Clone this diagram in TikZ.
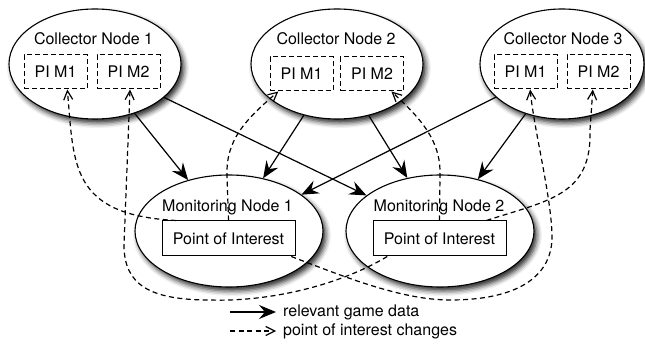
\documentclass[tikz,border=0pt]{standalone}
\usepackage{fontspec}
\setmainfont{TeX Gyre Heros}
\usetikzlibrary{arrows.meta,shapes.geometric,shadows.blur}

\begin{document}
\begin{tikzpicture}[x=1pt,y=-1pt,
  every node/.style={font=\fontsize{16pt}{18pt}\selectfont},
  nodeshadow/.style={blur shadow={shadow xshift=3pt,shadow yshift=-4pt,
      shadow blur radius=5pt,shadow opacity=85}},
  collector/.style={ellipse,draw,line width=1.1pt,fill=white,inner sep=0pt,
      minimum width=172pt,minimum height=110pt,nodeshadow},
  monitor/.style={ellipse,draw,line width=1.1pt,fill=white,inner sep=0pt,
      minimum width=188pt,minimum height=112pt,nodeshadow},
  pibox/.style={draw,line width=1pt,dash pattern=on 5pt off 3pt,inner sep=0pt,
      minimum width=63pt,minimum height=34pt},
  poibox/.style={draw,line width=1pt,fill=white,inner sep=0pt,
      minimum width=133pt,minimum height=35pt},
  txt/.style={inner sep=0pt,anchor=base},
  data/.style={line width=1.2pt,-{Stealth[length=17pt,width=14pt,inset=6pt]}},
  change/.style={line width=1.2pt,dash pattern=on 5pt off 3.5pt,
      -{Straight Barb[length=9pt,width=9pt,line width=1.2pt]}}]
\useasboundingbox (0,0) rectangle (645,347);

% collector nodes
\node[collector] (cn1) at (95,64) {};
\node[collector] (cn2) at (337,64) {};
\node[collector,minimum width=164pt] (cn3) at (562,64) {};
% monitoring nodes
\node[monitor] (mn1) at (229,231) {};
\node[monitor] (mn2) at (440,231) {};

\node[txt] (t1) at (93.5,44.5) {Collector Node 1};
\node[txt] (t2) at (336,44.5) {Collector Node 2};
\node[txt] (t3) at (563,44.5) {Collector Node 3};
\node[txt] (t4) at (227.5,212) {Monitoring Node 1};
\node[txt] (t5) at (439,212) {Monitoring Node 2};

\node[pibox] (a1) at (55.5,72) {PI M1};
\node[pibox] (a2) at (128.5,72) {PI M2};
\node[pibox] (b1) at (301.5,74) {PI M1};
\node[pibox] (b2) at (372,74) {PI M2};
\node[pibox] (c1) at (525.5,72) {PI M1};
\node[pibox] (c2) at (598.5,72) {PI M2};

\node[poibox] (p1) at (228.5,238.5) {Point of Interest};
\node[poibox] (p2) at (439.5,238.5) {Point of Interest};

% relevant game data
\draw[data] (cn1) -- (mn1);
\draw[data] (cn1) -- (mn2);
\draw[data] (cn2) -- (mn1);
\draw[data] (cn2) -- (mn2);
\draw[data] (cn3) -- (mn1);
\draw[data] (cn3) -- (mn2);

% point of interest changes
\draw[change] (p1.161) .. controls (70,215) and (74,165) .. (a1.-56);
\draw[change] (p2.199) .. controls (340,285) and (270,302) .. (210,300)
  .. controls (150,300) and (124,285) .. (124,245) -- (a2.-85);
\draw[change] (p1.north) -- (227,175) .. controls (226,140) and (245,120) .. (b1.217);
\draw[change] (p2.north) -- (440,175) .. controls (441,140) and (420,118) .. (b2.-42);
\draw[change] (p1.-16.4) .. controls (340,275) and (400,300) .. (450,300)
  .. controls (520,300) and (553,275) .. (552,235)
  .. controls (551,195) and (534,130) .. (c1.-75);
\draw[change] (p2.21.3) .. controls (550,200) and (592,195) .. (590,130) -- (c2.-108);

% legend
\coordinate (l1a) at (230,312);
\coordinate (l1b) at (276,312);
\coordinate (l2a) at (230,331);
\coordinate (l2b) at (276,331);
\draw[data] (l1a) -- (l1b);
\draw[change] (l2a) -- (l2b);
\node[txt,anchor=base west] (l1t) at (283,316.5) {relevant game data};
\node[txt,anchor=base west] (l2t) at (283,335.5) {point of interest changes};
\end{tikzpicture}
\end{document}
